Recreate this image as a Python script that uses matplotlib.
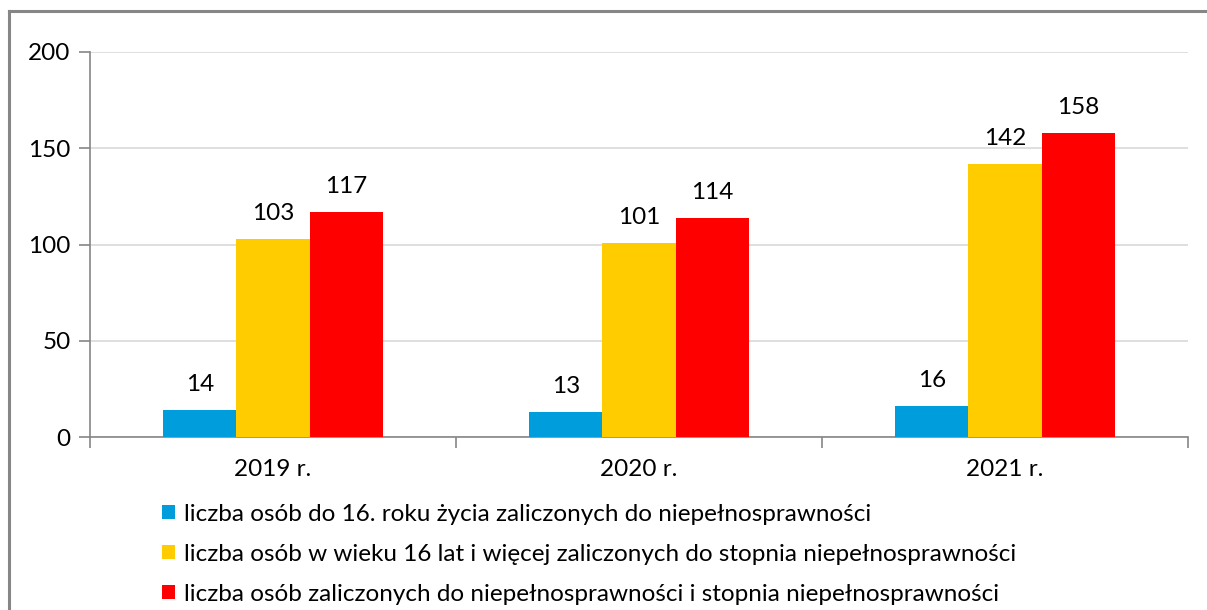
import matplotlib
matplotlib.use("Agg")
import matplotlib.pyplot as plt
import numpy as np
from matplotlib.lines import Line2D

categories = ["2019 r.", "2020 r.", "2021 r."]
series_names = [
    "liczba osób do 16. roku życia zaliczonych do niepełnosprawności",
    "liczba osób w wieku 16 lat i więcej zaliczonych do stopnia niepełnosprawności",
    "liczba osób zaliczonych do niepełnosprawności i stopnia niepełnosprawności",
]
under16 = [14, 13, 16]
over16 = [103, 101, 142]
total = [117, 114, 158]
yticks = [0, 50, 100, 150, 200]
colors = ["#009DDC", "#FFCC00", "#FF0000"]

plt.rcParams['font.family'] = ['Lato', 'DejaVu Sans']
FS = 17.5
W, H = 1207, 610
fig = plt.figure(figsize=(W / 100, H / 100), dpi=100)
ax = fig.add_axes([90 / W, 1 - 437 / H, (1188 - 90) / W, (437 - 52) / H])

# outer frame (left and top edges visible)
fx, fy = 9 / W, 1 - 11 / H
fig.lines.append(Line2D([fx, fx], [0, fy], transform=fig.transFigure, color="#868686", linewidth=2.2))
fig.lines.append(Line2D([fx, 1.01], [fy, fy], transform=fig.transFigure, color="#868686", linewidth=2.2))

x = np.arange(len(categories))
bw = 0.2
for i, (vals, c, name) in enumerate(zip([under16, over16, total], colors, series_names)):
    pos = x + (i - 1) * bw
    ax.bar(pos, vals, width=bw, color=c, label=name, zorder=3)
    for p, v in zip(pos, vals):
        ax.annotate(str(v), (p, v), xytext=(0, 13.7), textcoords="offset points",
                    ha="center", va="baseline", fontsize=FS, color="black")

ax.set_xlim(-0.5, len(categories) - 0.5)
ax.set_ylim(0, 200)
ax.set_yticks(yticks)
ax.set_yticklabels([str(t) for t in yticks], fontsize=FS)
ax.yaxis.grid(True, color="#D9D9D9", linewidth=1.2, zorder=0)
ax.set_axisbelow(True)

ax.set_xticks(x)
ax.set_xticklabels(categories, fontsize=FS)
ax.tick_params(axis="x", length=0, pad=16)
ax.set_xticks(np.arange(-0.5, len(categories)), minor=True)
ax.tick_params(axis="x", which="minor", length=8, color="#868686", width=1.2)
ax.tick_params(axis="y", length=8, color="#868686", width=1.2, pad=6)

for s in ["top", "right"]:
    ax.spines[s].set_visible(False)
for s in ["left", "bottom"]:
    ax.spines[s].set_color("#868686")
    ax.spines[s].set_linewidth(1.2)

fig.legend(loc="upper left", bbox_to_anchor=(152 / W, 1 - 494 / H), frameon=False,
           fontsize=FS, handlelength=0.55, handleheight=0.55, handletextpad=0.35,
           labelspacing=0.78, borderaxespad=0)

fig.savefig("out.png", dpi=100)
